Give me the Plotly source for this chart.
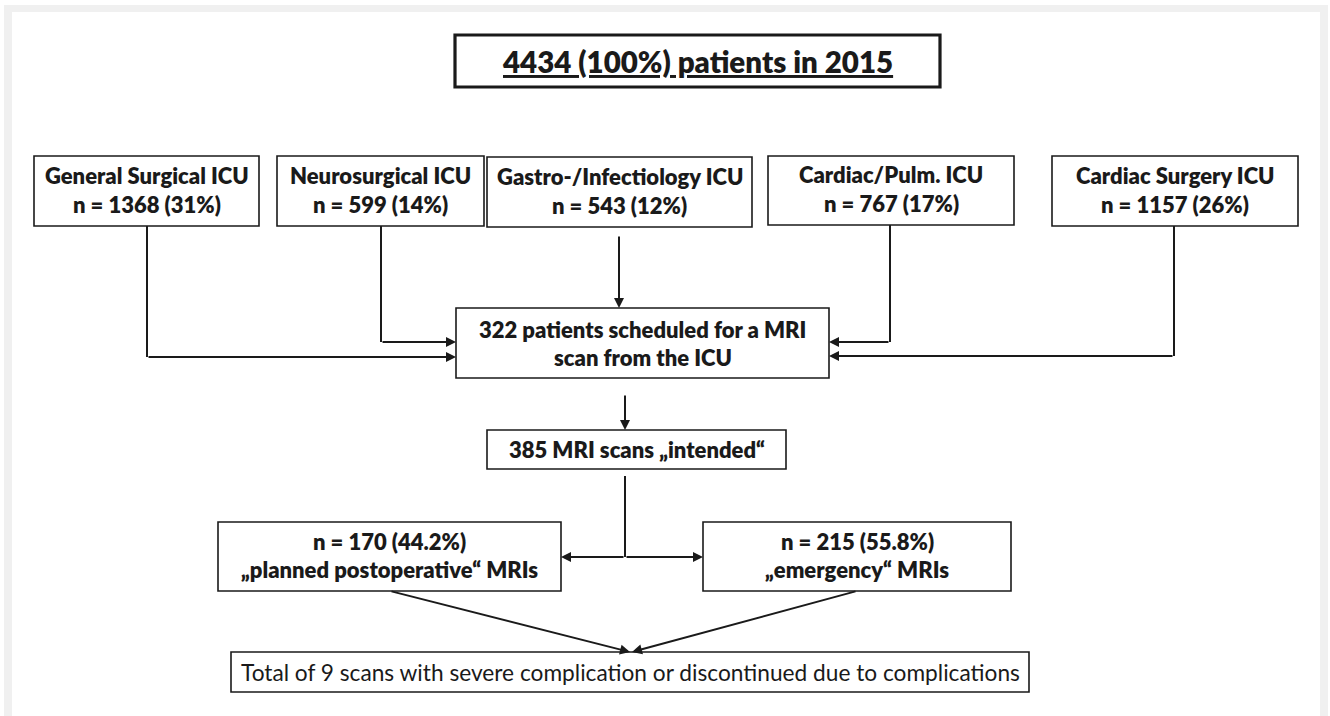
import plotly.graph_objects as go

# ---------------- data ----------------
total_patients = 4434
total_pct = 100
study_year = 2015
units = ["General Surgical ICU", "Neurosurgical ICU", "Gastro-/Infectiology ICU",
         "Cardiac/Pulm. ICU", "Cardiac Surgery ICU"]
unit_n = [1368, 599, 543, 767, 1157]
unit_pct = [31, 14, 12, 17, 26]
scheduled_patients = 322
scans_intended = 385
scan_types = ["planned postoperative", "emergency"]
scan_n = [170, 215]
scan_pct = [44.2, 55.8]
complication_scans = 9

# ---------------- layout (pixel geometry) ----------------
W, H = 1330, 716
unit_boxes = [(34, 156, 259, 226), (277, 156, 484, 226), (487, 157, 752, 227),
              (768, 156, 1014, 225), (1052, 156, 1298, 226)]
title_box = (455, 35, 940, 87)
sched_box = (456, 308, 829, 378)
intended_box = (487, 430, 786, 469)
type_boxes = [(218, 522, 561, 591), (703, 522, 1011, 591)]
bottom_box = (231, 652, 1029, 692)

LINE = "#1a1a1a"
FONT = "Lato, 'Open Sans', sans-serif"

fig = go.Figure()
shapes = []
ann = []

# page frame
shapes.append(dict(type="rect", x0=4, y0=5, x1=1328, y1=760, fillcolor="#f0f0f0",
                   line=dict(width=0), layer="below"))
shapes.append(dict(type="rect", x0=12, y0=12, x1=1320, y1=760, fillcolor="white",
                   line=dict(width=0), layer="below"))


def box(b, width=1.6):
    shapes.append(dict(type="rect", x0=b[0], y0=b[1], x1=b[2], y1=b[3],
                       line=dict(color=LINE, width=width), fillcolor="rgba(0,0,0,0)"))


def text(x, y, s, size=22, weight=800):
    ann.append(dict(x=x, y=y, text=s, showarrow=False, xanchor="center", yanchor="middle",
                    font=dict(family=FONT, size=size, color="#1a1a1a", weight=weight)))


def line(x0, y0, x1, y1, width=2):
    shapes.append(dict(type="line", x0=x0, y0=y0, x1=x1, y1=y1,
                       line=dict(color=LINE, width=width)))


def arrow(x0, y0, x1, y1, width=2):
    ann.append(dict(x=x1, y=y1, ax=x0, ay=y0, xref="x", yref="y", axref="x", ayref="y",
                    text="", showarrow=True, arrowhead=2, arrowsize=1.0, arrowwidth=width,
                    arrowcolor=LINE, standoff=0, startstandoff=0))


# title
box(title_box, width=3.2)
cx = (title_box[0] + title_box[2]) / 2
cy = (title_box[1] + title_box[3]) / 2
text(cx, cy, f"<u>{total_patients} ({total_pct}%) patients in {study_year}</u>", size=29.5)

# unit boxes
for b, name, n, p in zip(unit_boxes, units, unit_n, unit_pct):
    box(b)
    cx = (b[0] + b[2]) / 2
    cy = (b[1] + b[3]) / 2
    text(cx, cy - 16, name)
    text(cx, cy + 13, f"n = {n} ({p}%)")

# scheduled box
box(sched_box)
cx = (sched_box[0] + sched_box[2]) / 2
cy = (sched_box[1] + sched_box[3]) / 2
text(cx, cy - 14, f"{scheduled_patients} patients scheduled for a MRI")
text(cx, cy + 14, "scan from the ICU")

# intended box
box(intended_box)
cx = (intended_box[0] + intended_box[2]) / 2
cy = (intended_box[1] + intended_box[3]) / 2
text(cx, cy, f"{scans_intended} MRI scans \u201eintended\u201c")

# scan type boxes
for b, t, n, p in zip(type_boxes, scan_types, scan_n, scan_pct):
    box(b)
    cx = (b[0] + b[2]) / 2
    cy = (b[1] + b[3]) / 2
    text(cx, cy - 15, f"n = {n} ({p}%)")
    text(cx, cy + 13, f"\u201e{t}\u201c MRIs")

# bottom box
box(bottom_box)
cx = (bottom_box[0] + bottom_box[2]) / 2
cy = (bottom_box[1] + bottom_box[3]) / 2
text(cx, cy, f"Total of {complication_scans} scans with severe complication or discontinued due to complications",
     size=22.7, weight=400)

# connectors: units -> scheduled
line(147, 226, 147, 357)
arrow(147, 357, sched_box[0], 357)
line(381, 226, 381, 342)
arrow(381, 342, sched_box[0], 342)
arrow(619, 235, 619, sched_box[1])
line(890, 225, 890, 342)
arrow(890, 342, sched_box[2], 342)
line(1174, 226, 1174, 356)
arrow(1174, 356, sched_box[2], 356)

# scheduled -> intended
arrow(625, 394, 625, intended_box[1])

# intended -> split
line(625, 476, 625, 557)
arrow(625, 557, type_boxes[0][2], 557)
arrow(625, 557, type_boxes[1][0], 557)

# types -> bottom
arrow(390, type_boxes[0][3], 630, bottom_box[1])
arrow(857, type_boxes[1][3], 632, bottom_box[1])

fig.update_layout(
    width=W, height=H, margin=dict(l=0, r=0, t=0, b=0),
    paper_bgcolor="white", plot_bgcolor="white",
    xaxis=dict(range=[0, W], visible=False, fixedrange=True),
    yaxis=dict(range=[H, 0], visible=False, fixedrange=True),
    shapes=shapes, annotations=ann, showlegend=False,
)

fig.write_html("out.html", config={"displayModeBar": False},
               post_script="document.body.style.margin='0';document.body.style.overflow='hidden';")
